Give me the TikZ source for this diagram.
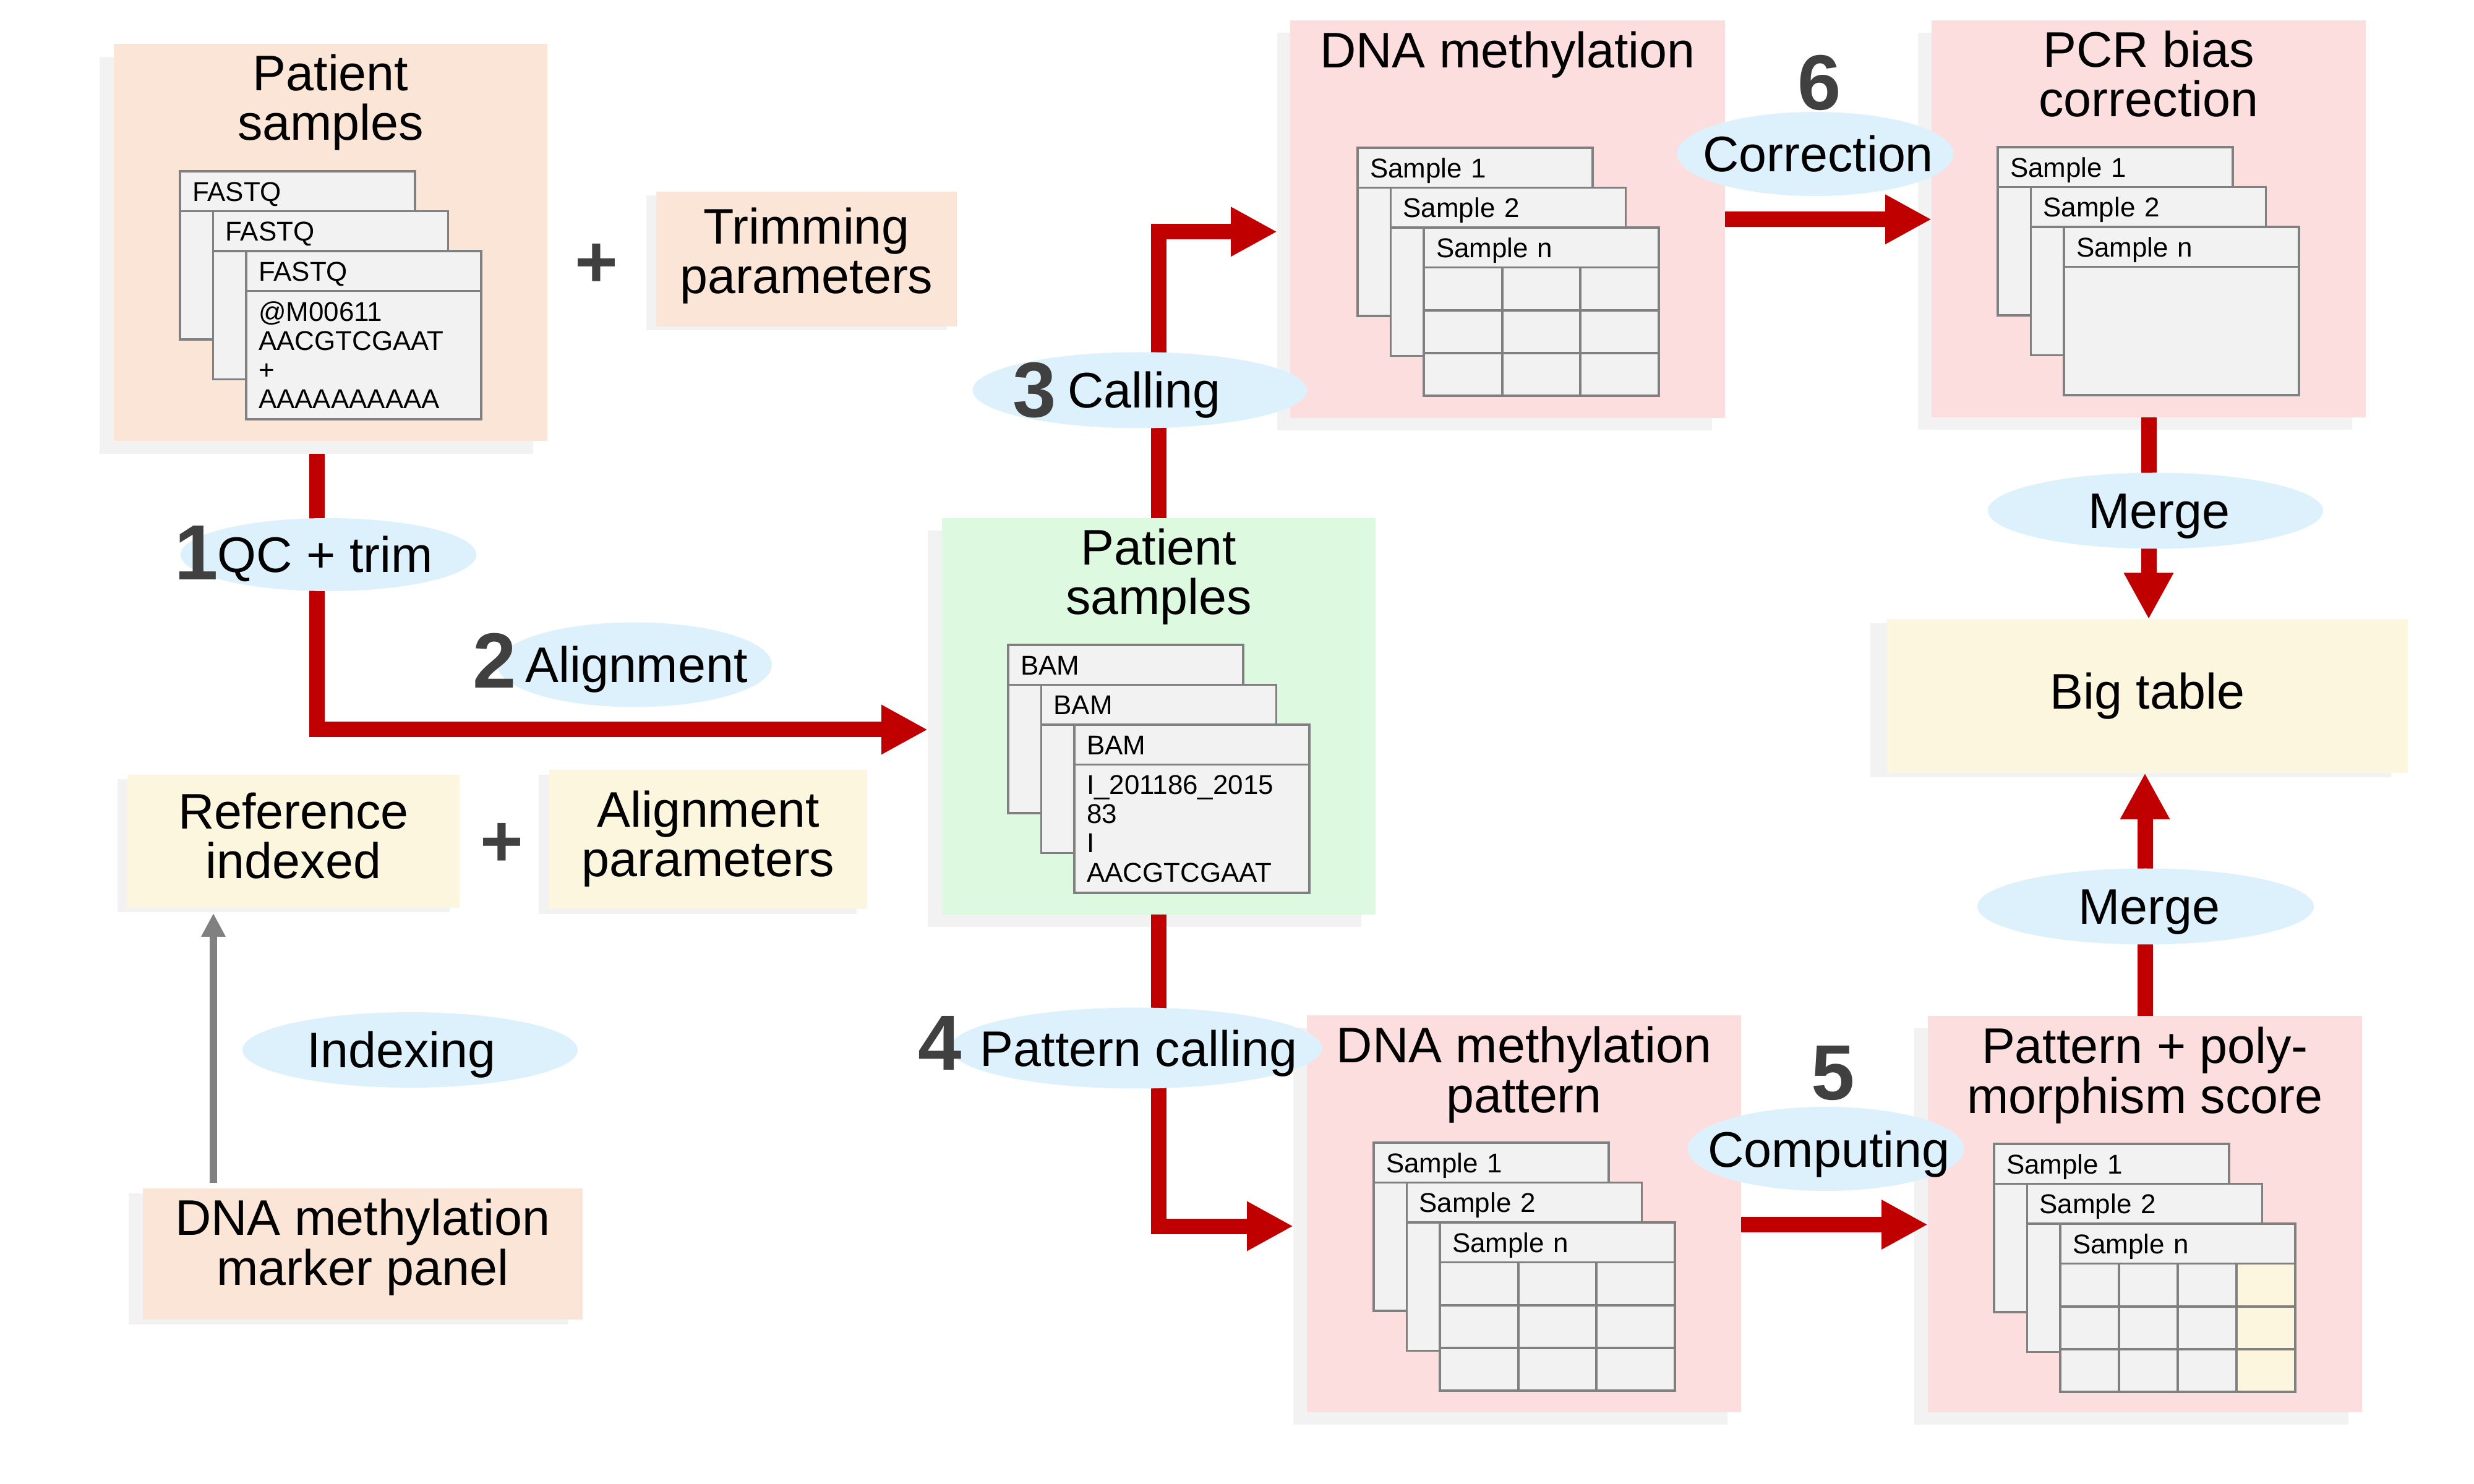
\documentclass[tikz,border=0pt]{standalone}
\usepackage{fontspec}
\setmainfont{Liberation Sans}
\usetikzlibrary{arrows.meta,calc,shapes.geometric,shadows}

\definecolor{peach}{HTML}{FBE5D6}
\definecolor{pinkb}{HTML}{FCDEDE}
\definecolor{greenb}{HTML}{DDF9DF}
\definecolor{yellowb}{HTML}{FDF6DE}
\definecolor{ellc}{HTML}{DDF1FC}
\definecolor{shadowc}{HTML}{F2F2F2}
\definecolor{cardfill}{HTML}{F2F2F2}
\definecolor{cardline}{HTML}{808080}
\definecolor{redc}{HTML}{C00000}
\definecolor{numc}{HTML}{404040}

\newcommand{\bigfont}{\fontsize{23}{22.8}\selectfont}
\newcommand{\cardfont}{\fontsize{12.5}{13.4}\selectfont}
\newcommand{\numfont}{\fontsize{36}{36}\selectfont\bfseries}

\tikzset{
  box/.style={rectangle, inner sep=0, outer sep=0, anchor=north west, draw=none},
  shd/.style 2 args={general shadow={fill=shadowc, shadow xshift=#1cm, shadow yshift=#2cm}},
  ttl/.style={font=\bigfont, align=center, inner sep=0, anchor=base},
  ovl/.style={ellipse, fill=ellc, draw=none, inner sep=0},
  olbl/.style={font=\bigfont, inner sep=0, text height=0.58cm, text depth=0cm},
  num/.style={font=\numfont, text=numc, inner sep=0, anchor=base},
  plus/.style={font=\fontsize{34}{34}\selectfont\bfseries, text=numc, inner sep=0},
  chead/.style={rectangle, draw=cardline, fill=cardfill, line width=1.1pt, anchor=north west,
    outer sep=0, minimum height=0.645cm, text width=3.4cm, inner xsep=0.2cm, inner ysep=0,
    align=left, font=\cardfont, text height=0.32cm, text depth=0cm},
  cbody/.style={rectangle, draw=cardline, fill=cardfill, line width=1.1pt, anchor=north west,
    outer sep=0, minimum height=2.075cm, text width=3.4cm, inner xsep=0.2cm, inner ysep=0,
    align=left, font=\cardfont},
  cardln/.style={draw=cardline, line width=1.1pt},
  redarr/.style={draw=redc, line width=0.25cm, -{Triangle[length=0.75cm,width=0.75cm]}},
  greyarr/.style={draw=cardline, line width=0.12cm, -{Triangle[length=0.38cm,width=0.37cm]}},
}

\newcommand{\cardstack}[7]{%
  \node[chead] (#1h1) at (#2,#3) {#4};
  \node[cbody] (#1b1) at (#1h1.south west) {};
  \node[chead] (#1h2) at ($(#1h1.north west)+(0.535,-0.645)$) {#5};
  \node[cbody] (#1b2) at (#1h2.south west) {};
  \node[chead] (#1h3) at ($(#1h2.north west)+(0.535,-0.645)$) {#6};
  \node[cbody] (#1b3) at (#1h3.south west) {#7};
}

\begin{document}
\begin{tikzpicture}
\fill[white] (0,0) rectangle (40,-24);
\useasboundingbox (0,0) rectangle (40,-24);

% ---------- boxes ----------
\node[box, fill=peach, shd={-0.23}{-0.21}, minimum width=7.01cm, minimum height=6.42cm] (ps) at (1.84,-0.71) {};
\node[box, fill=peach, shd={-0.16}{-0.06}, minimum width=4.86cm, minimum height=2.18cm] (trim) at (10.61,-3.10) {};
\node[box, fill=greenb, shd={-0.23}{-0.20}, minimum width=7.01cm, minimum height=6.41cm] (gr) at (15.23,-8.38) {};
\node[box, fill=pinkb, shd={-0.21}{-0.20}, minimum width=7.03cm, minimum height=6.425cm] (dm) at (20.86,-0.335) {};
\node[box, fill=pinkb, shd={-0.22}{-0.20}, minimum width=7.02cm, minimum height=6.42cm] (pcr) at (31.23,-0.33) {};
\node[box, fill=yellowb, shd={-0.27}{-0.07}, minimum width=8.42cm, minimum height=2.485cm] (bt) at (30.51,-10.015) {};
\node[box, fill=pinkb, shd={-0.22}{-0.20}, minimum width=7.02cm, minimum height=6.42cm] (pat) at (21.13,-16.42) {};
\node[box, fill=pinkb, shd={-0.22}{-0.20}, minimum width=7.02cm, minimum height=6.41cm] (pp) at (31.17,-16.43) {};
\node[box, fill=yellowb, shd={-0.16}{-0.07}, minimum width=5.37cm, minimum height=2.15cm] (ref) at (2.06,-12.53) {};
\node[box, fill=yellowb, shd={-0.17}{-0.08}, minimum width=5.14cm, minimum height=2.25cm] (alp) at (8.88,-12.45) {};
\node[box, fill=peach, shd={-0.23}{-0.08}, minimum width=7.11cm, minimum height=2.12cm] (mk) at (2.31,-19.22) {};

% ---------- titles (base = baseline of last line) ----------
\node[ttl] (ps-t) at (5.345,-2.27) {Patient\\samples};
\node[ttl] (trim-t) at (13.04,-4.75) {Trimming\\parameters};
\node[ttl] (gr-t) at (18.735,-9.94) {Patient\\samples};
\node[ttl] (dm-t) at (24.375,-1.10) {DNA methylation};
\node[ttl] (pcr-t) at (34.74,-1.89) {PCR bias\\correction};
\node[ttl] (pat-t) at (24.64,-17.99) {DNA methylation\\pattern};
\node[ttl] (pp-t) at (34.68,-18.00) {Pattern + poly-\\morphism score};
\node[ttl] (ref-t) at (4.745,-14.21) {Reference\\indexed};
\node[ttl] (alp-t) at (11.45,-14.18) {Alignment\\parameters};
\node[ttl] (mk-t) at (5.865,-20.78) {DNA methylation\\marker panel};
\node[ttl] (bt-t) at (34.72,-11.47) {Big table};

% ---------- card stacks ----------
\cardstack{fq}{2.91}{-2.77}{FASTQ}{FASTQ}{FASTQ}{@M00611\\AACGTCGAAT\\+\\AAAAAAAAAA}
\cardstack{bam}{16.30}{-10.43}{BAM}{BAM}{BAM}{I\_201186\_2015\\83\\I\\AACGTCGAAT}
\cardstack{dmc}{21.95}{-2.39}{Sample 1}{Sample 2}{Sample n}{}
\cardstack{pcc}{32.30}{-2.38}{Sample 1}{Sample 2}{Sample n}{}
\cardstack{ptc}{22.21}{-18.48}{Sample 1}{Sample 2}{Sample n}{}
\cardstack{ppc}{32.24}{-18.50}{Sample 1}{Sample 2}{Sample n}{}

% grids
\foreach \f in {0.3333,0.6667} {
  \draw[cardln] ($(dmcb3.north west)!\f!(dmcb3.north east)$) -- ($(dmcb3.south west)!\f!(dmcb3.south east)$);
  \draw[cardln] ($(dmcb3.north west)!\f!(dmcb3.south west)$) -- ($(dmcb3.north east)!\f!(dmcb3.south east)$);
  \draw[cardln] ($(ptcb3.north west)!\f!(ptcb3.north east)$) -- ($(ptcb3.south west)!\f!(ptcb3.south east)$);
  \draw[cardln] ($(ptcb3.north west)!\f!(ptcb3.south west)$) -- ($(ptcb3.north east)!\f!(ptcb3.south east)$);
}
\fill[yellowb] ($(ppcb3.north west)!0.75!(ppcb3.north east)$) rectangle (ppcb3.south east);
\foreach \f in {0.25,0.5,0.75}
  \draw[cardln] ($(ppcb3.north west)!\f!(ppcb3.north east)$) -- ($(ppcb3.south west)!\f!(ppcb3.south east)$);
\foreach \f in {0.3333,0.6667}
  \draw[cardln] ($(ppcb3.north west)!\f!(ppcb3.south west)$) -- ($(ppcb3.north east)!\f!(ppcb3.south east)$);
\draw[cardln] (ppcb3.north west) rectangle (ppcb3.south east);

% ---------- connectors ----------
\draw[redarr] ($(ps.south)+(-0.22,-0.21)$) |- ($(gr.west)+(-0.23,-0.215)$);
\draw[redarr] (gr.north) |- ($(dm.west)+(-0.21,-0.20)$);
\draw[redarr] (gr.south) |- ($(pat.west)+(-0.22,-0.20)$);
\draw[redarr] (dm.east) -- (dm.east -| pcr.west);
\coordinate (c5) at ($(pat.east)+(0,-0.175)$);
\draw[redarr] (c5) -- (c5 -| pp.west);
\draw[redarr] (pcr.south) -- (pcr.south |- bt.north);
\draw[redarr] (pp.north) -- (pp.north |- bt.south);
\coordinate (ix) at (3.45,0);
\draw[greyarr] ($(mk.north -| ix)+(0,0.09)$) -- ($(ref.south -| ix)+(0,-0.09)$);

% ---------- ellipses ----------
\node[ovl, minimum width=4.78cm, minimum height=1.18cm] (e1) at (5.31,-8.97) {};
\node[ovl, minimum width=4.44cm, minimum height=1.37cm] (e2) at (10.26,-10.75) {};
\node[ovl, minimum width=5.41cm, minimum height=1.23cm] (e3) at (18.43,-6.31) {};
\node[ovl, minimum width=6.01cm, minimum height=1.31cm] (e4) at (18.37,-16.95) {};
\node[ovl, minimum width=4.47cm, minimum height=1.36cm] (e5) at (29.52,-18.58) {};
\node[ovl, minimum width=4.47cm, minimum height=1.36cm] (e6) at (29.35,-2.49) {};
\node[ovl, minimum width=5.42cm, minimum height=1.23cm] (em1) at (34.85,-8.26) {};
\node[ovl, minimum width=5.44cm, minimum height=1.23cm] (em2) at (34.69,-14.66) {};
\node[ovl, minimum width=5.42cm, minimum height=1.22cm] (eix) at (6.63,-16.98) {};

\node[olbl] (e1t) at ($(e1)+(-0.05,0)$) {QC + trim};
\node[olbl] (e2t) at ($(e2)+(0.03,0)$) {Alignment};
\node[olbl] (e3t) at ($(e3)+(0.07,0)$) {Calling};
\node[olbl] (e4t) at ($(e4)+(0.04,0)$) {Pattern calling};
\node[olbl] (e5t) at ($(e5)+(0.05,0)$) {Computing};
\node[olbl] (e6t) at ($(e6)+(0.045,0)$) {Correction};
\node[olbl] (em1t) at ($(em1)+(0.06,0)$) {Merge};
\node[olbl] (em2t) at ($(em2)+(0.06,0)$) {Merge};
\node[olbl] (eixt) at ($(eix)+(-0.14,0)$) {Indexing};

% ---------- step numbers ----------
\node[num] (n1) at (3.18,-9.375) {1};
\node[num] (n2) at (8.00,-11.125) {2};
\node[num] (n3) at (16.73,-6.75) {3};
\node[num] (n4) at (15.20,-17.305) {4};
\node[num] (n5) at (29.64,-17.78) {5};
\node[num] (n6) at (29.42,-1.78) {6};

% ---------- plus signs ----------
\node[plus] (p1) at (9.64,-4.29) {+};
\node[plus] (p2) at (8.11,-13.66) {+};
\end{tikzpicture}
\end{document}
